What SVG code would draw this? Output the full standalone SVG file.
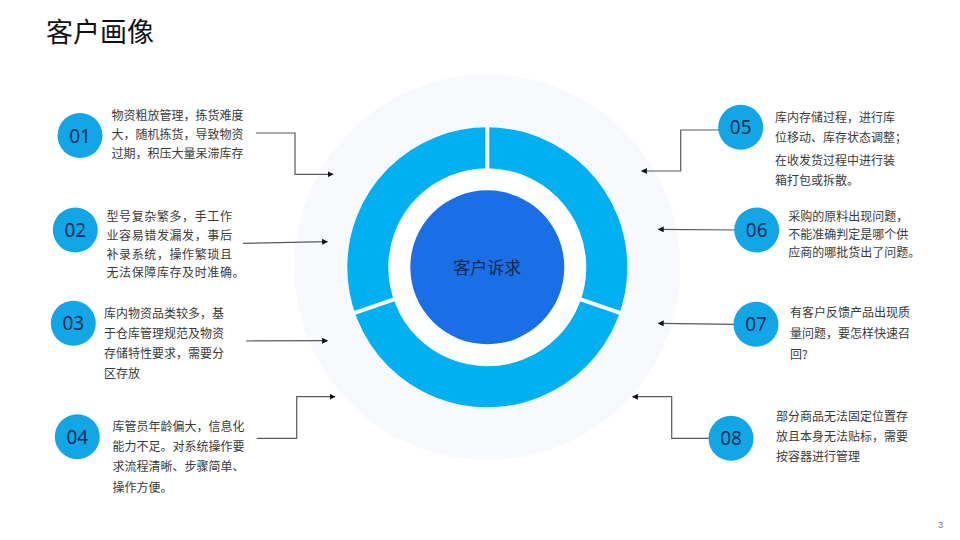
<svg xmlns="http://www.w3.org/2000/svg" width="960" height="540" viewBox="0 0 960 540">
<defs>
<style>
.t{font-family:"Noto Sans CJK SC","Noto Sans",sans-serif;font-size:12px;fill:#3a3a3a}
.num{font-family:"Noto Sans","Noto Sans CJK SC",sans-serif;font-size:19px;fill:#12305a;text-anchor:middle}
.nc{fill:#12a6e6}
.conn{fill:none;stroke:#5a5a5a;stroke-width:1.2}
</style>
<marker id="arr" viewBox="0 0 10 10" refX="9" refY="5" markerWidth="6" markerHeight="6" markerUnits="userSpaceOnUse" orient="auto">
<path d="M0,0 L10,5 L0,10 z" fill="#111"/>
</marker>
</defs>
<rect width="960" height="540" fill="#ffffff"/>
<text x="46" y="42" font-family="Noto Sans CJK SC,sans-serif" font-size="27" fill="#111">客户画像</text>
<g id="center">
<circle cx="487.3" cy="267.3" r="193" fill="#f7f9fd"/>
<circle cx="487.3" cy="267.3" r="119.5" fill="#ffffff" stroke="#00b0f0" stroke-width="41"/>
<line x1="487.3" y1="169" x2="487.3" y2="126.5" stroke="#ffffff" stroke-width="4"/>
<line x1="580" y1="299.2" x2="620.6" y2="313.2" stroke="#ffffff" stroke-width="4"/>
<line x1="394.6" y1="299.2" x2="354" y2="313.2" stroke="#ffffff" stroke-width="4"/>
<circle cx="487.3" cy="267.3" r="77" fill="#1a6fe6"/>
<text x="487.3" y="274" text-anchor="middle" font-family="Noto Sans CJK SC,sans-serif" font-size="17" fill="#14284b">客户诉求</text>
</g>
<g id="connectors">
<path class="conn" d="M256,133 H295 V174.3 H333" marker-end="url(#arr)"/>
<path class="conn" d="M243,243.3 L327.5,241.7" marker-end="url(#arr)"/>
<path class="conn" d="M246,341 L327.5,340.7" marker-end="url(#arr)"/>
<path class="conn" d="M256.7,438.3 H296.7 V396.7 H335" marker-end="url(#arr)"/>
<path class="conn" d="M720,130 H680.7 V171 H641.5" marker-end="url(#arr)"/>
<path class="conn" d="M736.7,230 L658.3,229.3" marker-end="url(#arr)"/>
<path class="conn" d="M736.7,324.3 L658.3,323.3" marker-end="url(#arr)"/>
<path class="conn" d="M710,438.3 H671.7 V396.7 H632.5" marker-end="url(#arr)"/>
</g>
<g id="n01">
<circle class="nc" cx="80" cy="135.5" r="22.5"/>
<text class="num" x="80" y="142.5">01</text>
<text class="t" x="111.5"><tspan x="111.5" y="119.5">物资粗放管理，拣货难度</tspan><tspan x="111.5" y="139">大，随机拣货，导致物资</tspan><tspan x="111.5" y="158">过期，积压大量呆滞库存</tspan></text>
</g>
<g id="n02">
<circle class="nc" cx="75.3" cy="230" r="22.5"/>
<text class="num" x="75.3" y="237">02</text>
<text class="t" x="106.5" letter-spacing="0.6"><tspan x="106.5" y="220.5">型号复杂繁多，手工作</tspan><tspan x="106.5" y="239.5">业容易错发漏发，事后</tspan><tspan x="106.5" y="258.5">补录系统，操作繁琐且</tspan><tspan x="106.5" y="277">无法保障库存及时准确。</tspan></text>
</g>
<g id="n03">
<circle class="nc" cx="73.3" cy="323.3" r="22.5"/>
<text class="num" x="73.3" y="330.3">03</text>
<text class="t" x="104"><tspan x="104" y="318">库内物资品类较多，基</tspan><tspan x="104" y="338">于仓库管理规范及物资</tspan><tspan x="104" y="358">存储特性要求，需要分</tspan><tspan x="104" y="378">区存放</tspan></text>
</g>
<g id="n04">
<circle class="nc" cx="77.3" cy="436.7" r="22.5"/>
<text class="num" x="77.3" y="443.7">04</text>
<text class="t" x="112.5"><tspan x="112.5" y="431">库管员年龄偏大，信息化</tspan><tspan x="112.5" y="451">能力不足。对系统操作要</tspan><tspan x="112.5" y="471">求流程清晰、步骤简单、</tspan><tspan x="112.5" y="492">操作方便。</tspan></text>
</g>
<g id="n05">
<circle class="nc" cx="740.7" cy="127.3" r="22.5"/>
<text class="num" x="740.7" y="134.3">05</text>
<text class="t" x="775"><tspan x="775" y="122">库内存储过程，进行库</tspan><tspan x="775" y="142">位移动、库存状态调整；</tspan><tspan x="775" y="165">在收发货过程中进行装</tspan><tspan x="775" y="185">箱打包或拆散。</tspan></text>
</g>
<g id="n06">
<circle class="nc" cx="756.7" cy="230" r="22.5"/>
<text class="num" x="756.7" y="237">06</text>
<text class="t" x="788.3"><tspan x="788.3" y="220.5">采购的原料出现问题，</tspan><tspan x="788.3" y="238.5">不能准确判定是哪个供</tspan><tspan x="788.3" y="257">应商的哪批货出了问题。</tspan></text>
</g>
<g id="n07">
<circle class="nc" cx="756" cy="324.3" r="22.5"/>
<text class="num" x="756" y="331.3">07</text>
<text class="t" x="790"><tspan x="790" y="317">有客户反馈产品出现质</tspan><tspan x="790" y="338">量问题，要怎样快速召</tspan><tspan x="790" y="358.5">回?</tspan></text>
</g>
<g id="n08">
<circle class="nc" cx="731" cy="438.3" r="22.5"/>
<text class="num" x="731" y="445.3">08</text>
<text class="t" x="776"><tspan x="776" y="420.5">部分商品无法固定位置存</tspan><tspan x="776" y="440.5">放且本身无法贴标，需要</tspan><tspan x="776" y="461">按容器进行管理</tspan></text>
</g>
<text x="938" y="528" font-family="Liberation Sans,sans-serif" font-size="9" fill="#777">3</text>
</svg>
